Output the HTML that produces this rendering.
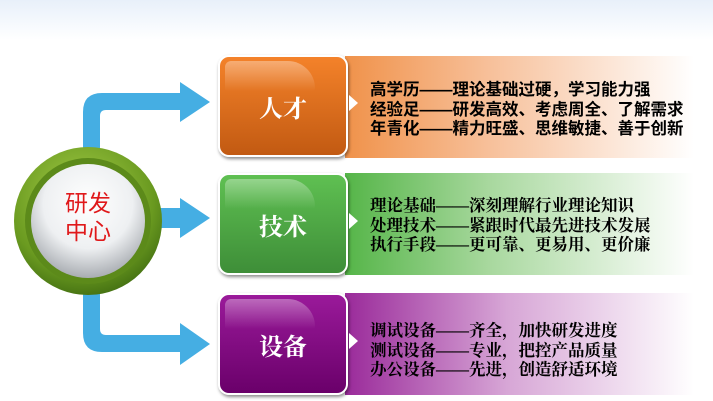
<!DOCTYPE html>
<html><head><meta charset="utf-8"><style>
body{margin:0;width:713px;height:401px;overflow:hidden;background:linear-gradient(#e8f0fa 0px,#fff 40px);position:relative;font-family:"Liberation Sans","Noto Sans CJK SC",sans-serif}
.band{position:absolute;left:345px;width:360px;height:102px}
.box{position:absolute;left:218px;width:126px;height:98px;border:2px solid #fff;border-radius:11px;box-shadow:1px 2px 3px rgba(0,0,0,.45);color:#fff;font-size:24px;display:flex;align-items:center;justify-content:center;font-family:"Liberation Serif","Noto Serif CJK SC",serif;font-weight:bold}
.box:before{content:"";position:absolute;left:5px;top:4px;width:90px;height:30px;border-radius:9px 40px 4px 4px;background:linear-gradient(rgba(255,255,255,.35),rgba(255,255,255,0))}
.tri{position:absolute;left:349px;width:0;height:0;border-top:8px solid transparent;border-bottom:8px solid transparent;border-left:9px solid #fff}
.txt{position:absolute;left:370px;font-size:16.5px;line-height:19.5px;color:#000;font-weight:bold;white-space:nowrap}
.serif{font-family:"Liberation Serif","Noto Serif CJK SC",serif}
</style></head><body>
<div class="band" style="top:56px;background:linear-gradient(90deg,#f0924a,#f7c09a 40%,#fff 97%)"></div>
<div class="band" style="top:173px;background:linear-gradient(90deg,#55b548,#a8d89e 40%,#fff 97%)"></div>
<div class="band" style="top:293px;background:linear-gradient(90deg,#9a2a9a,#d7a6d6 45%,#fff 97%)"></div>

<svg width="713" height="401" style="position:absolute;left:0;top:0">
<g fill="#45aee3">
<path d="M83 160 V112 Q83 93 102 93 H180 V82 L210 102 L180 122 V110 H106 Q100 110 100 116 V160Z"/>
<path d="M150 208 H180 V198 L210 218 L180 238 V228 H150Z"/>
<path d="M83 280 V333 Q83 352 102 352 H180 V365 L210 344 L180 323 V335 H106 Q100 335 100 329 V280Z"/>
</g>
<defs>
<radialGradient id="g1" cx="45%" cy="35%" r="70%"><stop offset="0" stop-color="#a8d04a"/><stop offset=".7" stop-color="#6a9a20"/><stop offset="1" stop-color="#3e6a10"/></radialGradient>
<radialGradient id="w" cx="50%" cy="35%" r="65%"><stop offset="0" stop-color="#fff"/><stop offset=".6" stop-color="#eef0f2"/><stop offset="1" stop-color="#a9adb2"/></radialGradient>
</defs>
<circle cx="88" cy="221" r="74" fill="url(#g1)"/>
<circle cx="88" cy="221" r="63" fill="#5c8a1a"/>
<circle cx="88" cy="221" r="57" fill="url(#w)"/>
<text x="88" y="211" font-size="23" fill="#e0191b" text-anchor="middle" font-family="Liberation Sans,Noto Sans CJK SC,sans-serif">研发</text>
<text x="88" y="239" font-size="23" fill="#e0191b" text-anchor="middle" font-family="Liberation Sans,Noto Sans CJK SC,sans-serif">中心</text>
</svg>

<div class="box" style="top:55px;background:linear-gradient(#f4822a,#c25a12)">人才</div>
<div class="box" style="top:173px;background:linear-gradient(#5fc052,#3e8e38)">技术</div>
<div class="box" style="top:293px;background:linear-gradient(#9a1a9a,#6a006a)">设备</div>
<div class="tri" style="top:95px"></div>
<div class="tri" style="top:213px"></div>
<div class="tri" style="top:333px"></div>

<div class="txt" style="top:81px">高学历——理论基础过硬，学习能力强<br>经验足——研发高效、考虑周全、了解需求<br>年青化——精力旺盛、思维敏捷、善于创新</div>
<div class="txt serif" style="top:196px">理论基础——深刻理解行业理论知识<br>处理技术——紧跟时代最先进技术发展<br>执行手段——更可靠、更易用、更价廉</div>
<div class="txt serif" style="top:321px">调试设备——齐全，加快研发进度<br>测试设备——专业，把控产品质量<br>办公设备——先进，创造舒适环境</div>
</body></html>
